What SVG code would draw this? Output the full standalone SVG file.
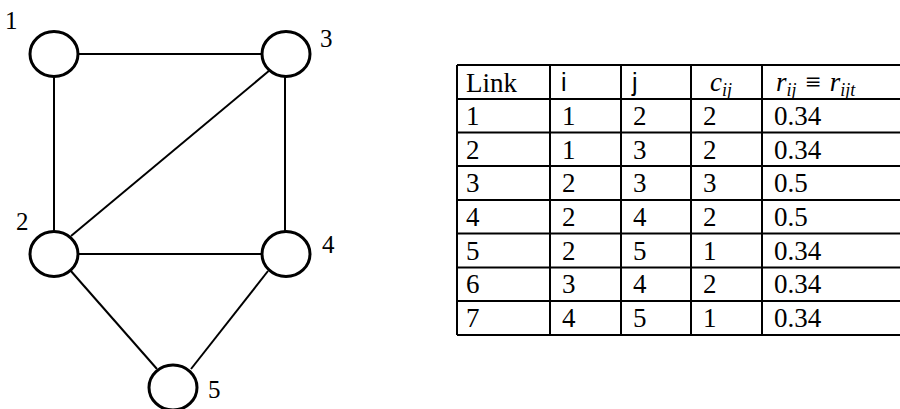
<svg xmlns="http://www.w3.org/2000/svg" width="900" height="409" viewBox="0 0 900 409">
<style>
.node{fill:#fff;stroke:#000;stroke-width:3}
.edge{stroke:#000;stroke-width:2;fill:none}
.lbl{font-family:"Liberation Serif",serif;font-size:25px;fill:#000}
.t{font-family:"Liberation Serif",serif;font-size:27px;fill:#000}
.s{font-family:"Liberation Sans",sans-serif;font-size:25px;fill:#000}
.m{font-family:"Liberation Serif",serif;font-style:italic;font-size:27px;fill:#000}
.grid{stroke:#000;stroke-width:2;fill:none}
</style>
<rect width="900" height="409" fill="#fff"/>
<g id="connectors">
<line class="edge" x1="78" y1="54" x2="262" y2="54"/>
<line class="edge" x1="54" y1="76" x2="54" y2="232"/>
<line class="edge" x1="285" y1="76" x2="285" y2="232"/>
<line class="edge" x1="71" y1="236" x2="270" y2="70"/>
<line class="edge" x1="78" y1="254" x2="262" y2="254"/>
<line class="edge" x1="70" y1="270" x2="157" y2="369"/>
<line class="edge" x1="268" y1="271" x2="191" y2="369"/>
</g>
<g id="node1"><ellipse class="node" cx="54" cy="54" rx="24" ry="22.5"/><text class="lbl" x="5" y="29">1</text></g>
<g id="node3"><ellipse class="node" cx="286" cy="54" rx="24" ry="22.5"/><text class="lbl" x="320" y="47">3</text></g>
<g id="node2"><ellipse class="node" cx="54" cy="254" rx="24" ry="22.5"/><text class="lbl" x="16" y="230">2</text></g>
<g id="node4"><ellipse class="node" cx="286" cy="254" rx="24" ry="22.5"/><text class="lbl" x="322" y="253">4</text></g>
<g id="node5"><ellipse class="node" cx="173" cy="387.5" rx="24" ry="22.5"/><text class="lbl" x="208" y="398">5</text></g>
<g id="table">
<path class="grid" d="M457 65H900M457 99H900M457 132.5H900M457 166H900M457 200H900M457 233.5H900M457 267.5H900M457 301H900M457 335H900M457 65V335M550 65V335M621 65V335M691 65V335M762 65V335"/>
<text class="t" x="466" y="92">Link</text>
<text class="s" x="561" y="91">i</text>
<text class="s" x="632" y="91">j</text>
<text class="m" x="710" y="91">c<tspan font-size="18" dy="5">ij</tspan></text>
<text class="m" x="776" y="91">r<tspan font-size="18" dy="5">ij</tspan><tspan dy="-5" font-style="normal" dx="9">≡</tspan><tspan dx="9">r</tspan><tspan font-size="18" dy="5">ijt</tspan></text>
<g class="t">
<text x="466" y="125">1</text><text x="562" y="125">1</text><text x="633" y="125">2</text><text x="703" y="125">2</text><text x="774" y="125">0.34</text>
<text x="466" y="158.5">2</text><text x="562" y="158.5">1</text><text x="633" y="158.5">3</text><text x="703" y="158.5">2</text><text x="774" y="158.5">0.34</text>
<text x="466" y="192">3</text><text x="562" y="192">2</text><text x="633" y="192">3</text><text x="703" y="192">3</text><text x="774" y="192">0.5</text>
<text x="466" y="226">4</text><text x="562" y="226">2</text><text x="633" y="226">4</text><text x="703" y="226">2</text><text x="774" y="226">0.5</text>
<text x="466" y="259.5">5</text><text x="562" y="259.5">2</text><text x="633" y="259.5">5</text><text x="703" y="259.5">1</text><text x="774" y="259.5">0.34</text>
<text x="466" y="293">6</text><text x="562" y="293">3</text><text x="633" y="293">4</text><text x="703" y="293">2</text><text x="774" y="293">0.34</text>
<text x="466" y="327">7</text><text x="562" y="327">4</text><text x="633" y="327">5</text><text x="703" y="327">1</text><text x="774" y="327">0.34</text>
</g>
</g>
</svg>
